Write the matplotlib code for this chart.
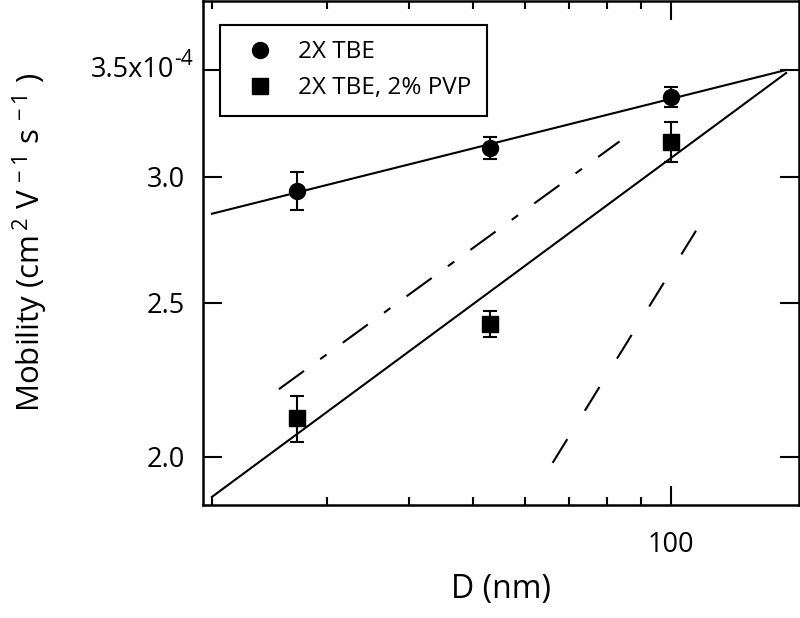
import numpy as np
import matplotlib.pyplot as plt
from matplotlib.ticker import FixedLocator, FixedFormatter, NullLocator, NullFormatter

plt.rcParams['font.family'] = ['Open Sans', 'DejaVu Sans']
plt.rcParams['mathtext.fontset'] = 'custom'
plt.rcParams['mathtext.rm'] = 'Open Sans'
plt.rcParams['mathtext.default'] = 'regular'

# Datos (movilidad en unidades de 1e-4 cm^2 V^-1 s^-1)
D = [27.0, 53.0, 100.0]
mob_tbe = [2.94, 3.128, 3.366]
err_tbe = [0.08, 0.05, 0.05]
mob_pvp = [2.115, 2.425, 3.155]
err_pvp = [0.07, 0.045, 0.09]

# Rango de los ajustes
fit_range = [20.0, 150.0]

# Líneas de referencia
ref1_x = [25.3, 83.6]
ref1_y = [2.206, 3.157]
ref2_x = [66.1, 110.0]
ref2_y = [1.983, 2.786]

yticks = [2.0, 2.5, 3.0, 3.5]
ytick_labels = ['2.0', '2.5', '3.0', '']

fig = plt.figure(figsize=(8, 6.18), dpi=100)
ax = fig.add_axes([0.254, 0.183, 0.745, 0.816])
ax.set_xscale('log')
ax.set_yscale('log')

# Ajustes de ley de potencia
xf = np.array(fit_range)
for y in (mob_tbe, mob_pvp):
    p = np.polyfit(np.log10(D), np.log10(y), 1)
    ax.plot(xf, 10 ** np.polyval(p, np.log10(xf)), color='black', lw=1.5)

ax.plot(ref1_x, ref1_y, color='black', lw=1.5, dashes=(14.9, 9.6, 3.8, 9.6))
ax.plot(ref2_x, ref2_y, color='black', lw=1.5, dashes=(13.4, 16))

ax.errorbar(D, mob_tbe, yerr=err_tbe, fmt='none', ecolor='black',
            elinewidth=1.5, capsize=5, capthick=1.5)
ax.errorbar(D, mob_pvp, yerr=err_pvp, fmt='none', ecolor='black',
            elinewidth=1.5, capsize=5, capthick=1.5)
ax.plot(D, mob_tbe, 'o', color='black', ms=11.5, label='2X TBE')
ax.plot(D, mob_pvp, 's', color='black', ms=11, label='2X TBE, 2% PVP')

ax.set_xlim(19.4, 157)
ax.set_ylim(1.866, 3.87)

ax.xaxis.set_major_locator(FixedLocator([100]))
ax.xaxis.set_major_formatter(FixedFormatter(['100']))
ax.xaxis.set_minor_formatter(NullFormatter())
ax.yaxis.set_major_locator(FixedLocator(yticks))
ax.yaxis.set_major_formatter(FixedFormatter(ytick_labels))
ax.yaxis.set_minor_locator(NullLocator())

ax.tick_params(which='both', direction='in', top=True, right=True, width=1.5)
ax.tick_params(which='major', length=14, labelsize=19.5)
ax.tick_params(which='minor', length=6)
ax.tick_params(axis='x', pad=19)
ax.tick_params(axis='y', pad=13)
for s in ax.spines.values():
    s.set_linewidth(1.8)

# Etiqueta 3.5x10^-4 con el exponente elevado
ax.annotate('3.5x10', xy=(0, 3.5), xycoords=ax.get_yaxis_transform(),
            xytext=(-21, 0), textcoords='offset points', ha='right', va='center',
            fontsize=19.5)
ax.annotate('-4', xy=(0, 3.5), xycoords=ax.get_yaxis_transform(),
            xytext=(-7.5, 7.5), textcoords='offset points', ha='right', va='center',
            fontsize=15)

ax.set_xlabel('D (nm)', fontsize=23, labelpad=10)
ax.set_ylabel(r'Mobility (cm$^{\,2}$ V$^{\,-1}$ s$^{\,-1}$ )', fontsize=22.5)
ax.yaxis.set_label_coords(-0.257, 0.521)

leg = ax.legend(loc='upper left', bbox_to_anchor=(0.0285, 0.9525), borderaxespad=0,
                fontsize=17.5, fancybox=False, edgecolor='black', framealpha=1,
                borderpad=0.65, handlelength=2.0, handletextpad=0.57, labelspacing=0.48)
leg.get_frame().set_linewidth(1.5)

fig.savefig('out.png', dpi=100)
